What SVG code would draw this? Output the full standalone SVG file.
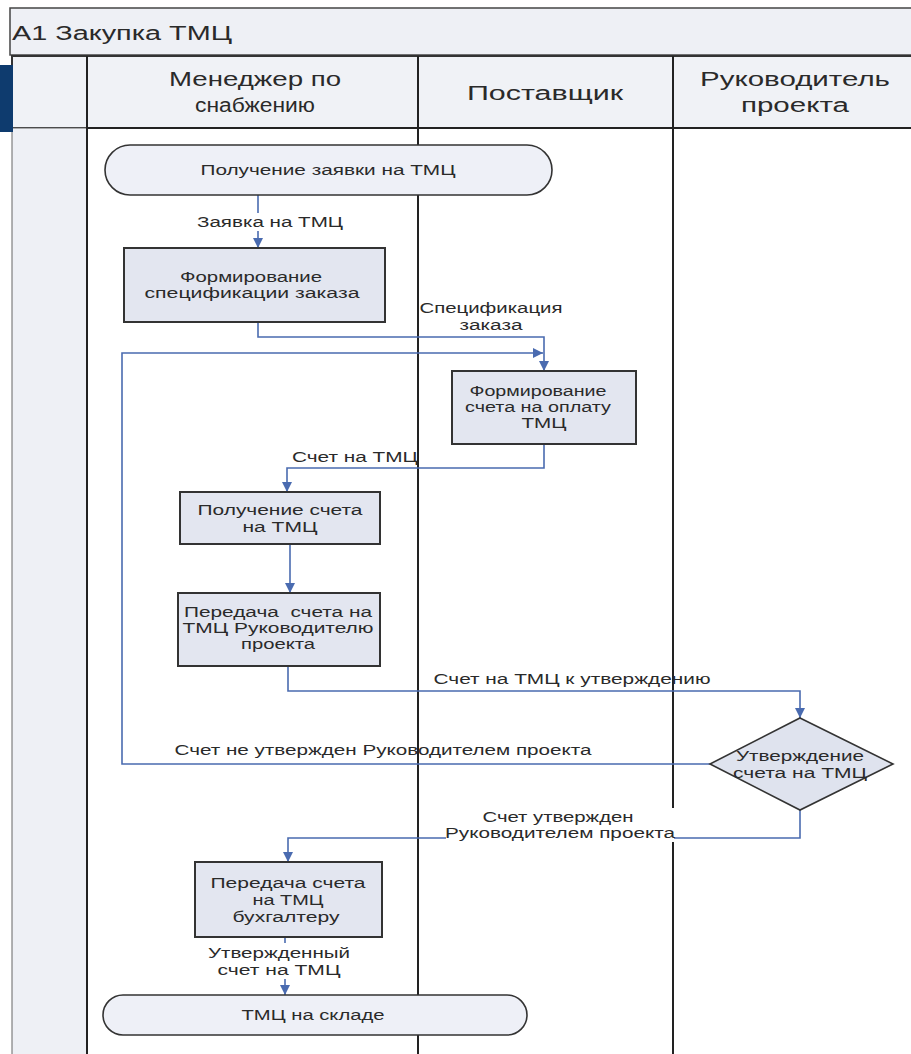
<svg xmlns="http://www.w3.org/2000/svg" width="911" height="1054" viewBox="0 0 911 1054">
<style>
text{font-family:"Liberation Sans",Arial,sans-serif;fill:#2a2a2a;white-space:pre}
.hd{font-size:20px;text-anchor:middle}
.nt{font-size:14px;text-anchor:middle}
.lb{font-size:14px;text-anchor:middle}
.box{fill:#e3e6f0;stroke:#333;stroke-width:2}
.term{fill:#eef0f7;stroke:#333;stroke-width:1.6}
.dia{fill:#dfe3ee;stroke:#333;stroke-width:1.6}
.ln{fill:none;stroke:#4a6bb0;stroke-width:1.6}
.lane{stroke:#222;stroke-width:2}
.bg{fill:#fff}
</style>
<defs>
<marker id="ah" markerUnits="userSpaceOnUse" markerWidth="10" markerHeight="10" refX="10" refY="5" orient="auto">
<path d="M0,0 L10,5 L0,10 z" fill="#4a6bb0"/>
</marker>
</defs>
<rect width="911" height="1054" fill="#fff"/>
<g id="pool">
<rect x="10" y="8" width="905" height="47" fill="#eef0f5" stroke="#444" stroke-width="1.5"/>
<text x="12" y="40" style="font-size:20px" textLength="220" lengthAdjust="spacingAndGlyphs">A1 Закупка ТМЦ</text>
<rect x="12" y="56" width="900" height="72" fill="#f0f2f6" stroke="#333" stroke-width="2"/>
<rect x="12" y="128" width="75" height="930" fill="#eef0f5" stroke="#666" stroke-width="1"/>
<rect x="0" y="65" width="13" height="67" fill="#0e3b6e"/>
<line class="lane" x1="87" y1="56" x2="87" y2="1054"/>
<line class="lane" x1="418" y1="56" x2="418" y2="1054"/>
<line class="lane" x1="673" y1="56" x2="673" y2="1054"/>
<line x1="87" y1="128" x2="911" y2="128" stroke="#222" stroke-width="2"/>
<text class="hd" x="255" y="86" textLength="172" lengthAdjust="spacingAndGlyphs">Менеджер по</text>
<text class="hd" x="255" y="112" textLength="120" lengthAdjust="spacingAndGlyphs">снабжению</text>
<text class="hd" x="545" y="100" textLength="156" lengthAdjust="spacingAndGlyphs">Поставщик</text>
<text class="hd" x="795" y="86" textLength="190" lengthAdjust="spacingAndGlyphs">Руководитель</text>
<text class="hd" x="795" y="112" textLength="108" lengthAdjust="spacingAndGlyphs">проекта</text>
</g>
<g id="connectors">
<path class="ln" d="M258,195 V248" marker-end="url(#ah)"/>
<rect class="bg" x="195" y="213" width="150" height="18"/>
<text class="lb" x="270" y="227" textLength="146" lengthAdjust="spacingAndGlyphs">Заявка на ТМЦ</text>
<path class="ln" d="M258,322 V337 H544 V371" marker-end="url(#ah)"/>
<text class="lb" x="491" y="313" textLength="143" lengthAdjust="spacingAndGlyphs">Спецификация</text>
<text class="lb" x="491" y="330" textLength="63" lengthAdjust="spacingAndGlyphs">заказа</text>
<path class="ln" d="M710,764 H122 V353 H543" marker-end="url(#ah)"/>
<path class="ln" d="M544,444 V468 H287 V492" marker-end="url(#ah)"/>
<text class="lb" x="355" y="462" textLength="126" lengthAdjust="spacingAndGlyphs">Счет на ТМЦ</text>
<path class="ln" d="M290,544 V593" marker-end="url(#ah)"/>
<path class="ln" d="M288,666 V691 H800 V718" marker-end="url(#ah)"/>
<text class="lb" x="572" y="684" textLength="277" lengthAdjust="spacingAndGlyphs">Счет на ТМЦ к утверждению</text>
<text class="lb" x="383" y="755" textLength="417" lengthAdjust="spacingAndGlyphs">Счет не утвержден Руководителем проекта</text>
<path class="ln" d="M800,810 V838 H288 V862" marker-end="url(#ah)"/>
<rect class="bg" x="446" y="808" width="228" height="34"/>
<text class="lb" x="558" y="822" textLength="151" lengthAdjust="spacingAndGlyphs">Счет утвержден</text>
<text class="lb" x="560" y="838" textLength="230" lengthAdjust="spacingAndGlyphs">Руководителем проекта</text>
<path class="ln" d="M285,937 V995" marker-end="url(#ah)"/>
<rect class="bg" x="206" y="943" width="146" height="36"/>
<text class="lb" x="279" y="958" textLength="142" lengthAdjust="spacingAndGlyphs">Утвержденный</text>
<text class="lb" x="279" y="975" textLength="123" lengthAdjust="spacingAndGlyphs">счет на ТМЦ</text>
</g>
<g id="n1">
<rect class="term" x="105" y="145" width="447" height="50" rx="25"/>
<text class="nt" x="328" y="175" textLength="255" lengthAdjust="spacingAndGlyphs">Получение заявки на ТМЦ</text>
</g>
<g id="n2">
<rect class="box" x="124" y="248" width="261" height="74"/>
<text class="nt" x="251" y="282" textLength="142" lengthAdjust="spacingAndGlyphs">Формирование</text>
<text class="nt" x="252" y="298" textLength="215" lengthAdjust="spacingAndGlyphs">спецификации заказа</text>
</g>
<g id="n3">
<rect class="box" x="452" y="371" width="184" height="73"/>
<text class="nt" x="538" y="396" textLength="137" lengthAdjust="spacingAndGlyphs">Формирование</text>
<text class="nt" x="538" y="412" textLength="146" lengthAdjust="spacingAndGlyphs">счета на оплату</text>
<text class="nt" x="544" y="428" textLength="45" lengthAdjust="spacingAndGlyphs">ТМЦ</text>
</g>
<g id="n4">
<rect class="box" x="180" y="492" width="200" height="52"/>
<text class="nt" x="280" y="515" textLength="165" lengthAdjust="spacingAndGlyphs">Получение счета</text>
<text class="nt" x="280" y="532" textLength="75" lengthAdjust="spacingAndGlyphs">на ТМЦ</text>
</g>
<g id="n5">
<rect class="box" x="178" y="593" width="202" height="73"/>
<text class="nt" x="278" y="617" textLength="188" lengthAdjust="spacingAndGlyphs">Передача  счета на</text>
<text class="nt" x="278" y="633" textLength="191" lengthAdjust="spacingAndGlyphs">ТМЦ Руководителю</text>
<text class="nt" x="278" y="649" textLength="74" lengthAdjust="spacingAndGlyphs">проекта</text>
</g>
<g id="n6">
<polygon class="dia" points="800,718 893,764 800,810 710,764"/>
<text class="nt" x="800" y="761" textLength="128" lengthAdjust="spacingAndGlyphs">Утверждение</text>
<text class="nt" x="800" y="778" textLength="134" lengthAdjust="spacingAndGlyphs">счета на ТМЦ</text>
</g>
<g id="n7">
<rect class="box" x="195" y="862" width="187" height="75"/>
<text class="nt" x="288" y="888" textLength="155" lengthAdjust="spacingAndGlyphs">Передача счета</text>
<text class="nt" x="288" y="905" textLength="71" lengthAdjust="spacingAndGlyphs">на ТМЦ</text>
<text class="nt" x="286" y="922" textLength="107" lengthAdjust="spacingAndGlyphs">бухгалтеру</text>
</g>
<g id="n8">
<rect class="term" x="103" y="995" width="424" height="40" rx="20"/>
<text class="nt" x="313" y="1020" textLength="143" lengthAdjust="spacingAndGlyphs">ТМЦ на складе</text>
</g>
</svg>
